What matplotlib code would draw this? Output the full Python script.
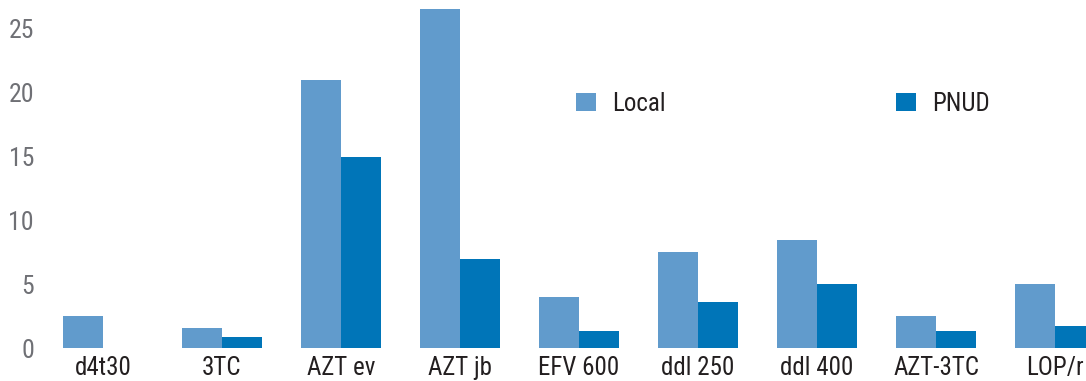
import numpy as np
import matplotlib
matplotlib.use("Agg")
import matplotlib.pyplot as plt

# Data
categories = ["d4t30", "3TC", "AZT ev", "AZT jb", "EFV 600", "ddl 250", "ddl 400", "AZT-3TC", "LOP/r"]
local_vals = [2.5, 1.6, 21.0, 26.6, 4.0, 7.5, 8.5, 2.5, 5.0]
pnud_vals = [0.0, 0.9, 15.0, 7.0, 1.3, 3.6, 5.0, 1.3, 1.7]
y_ticks = [0, 5, 10, 15, 20, 25]

plt.rcParams["font.family"] = ["Roboto Condensed", "DejaVu Sans"]

W, H = 1086, 381
fig = plt.figure(figsize=(W / 100, H / 100), dpi=100)
ax = fig.add_axes([45 / W, 33 / H, 1 - 45 / W, 348 / H])

x = np.arange(len(categories))
width = 0.336
ax.bar(x - width / 2, local_vals, width, color="#619bcc", label="Local")
ax.bar(x + width / 2, pnud_vals, width, color="#0075b8", label="PNUD")

ax.set_xlim(-0.487, 8.26)
ax.set_ylim(0, 27.27)
ax.set_yticks(y_ticks)
ax.set_yticklabels([str(t) for t in y_ticks], fontsize=18.5, color="#6f7075")
ax.set_xticks(x)
ax.set_xticklabels(categories, fontsize=18, color="#231f20")
ax.tick_params(axis="both", length=0)
ax.tick_params(axis="y", pad=8)
ax.tick_params(axis="x", pad=6)
for s in ax.spines.values():
    s.set_visible(False)

ax.legend(ncol=2, loc="center left", bbox_to_anchor=(576 / W, 1 - 104 / H),
          bbox_transform=fig.transFigure, frameon=False, fontsize=18,
          handlelength=0.8, handleheight=0.72, handletextpad=0.64,
          columnspacing=9.2, borderpad=0, borderaxespad=0,
          labelcolor="#231f20")

fig.savefig("out.png", dpi=100)
